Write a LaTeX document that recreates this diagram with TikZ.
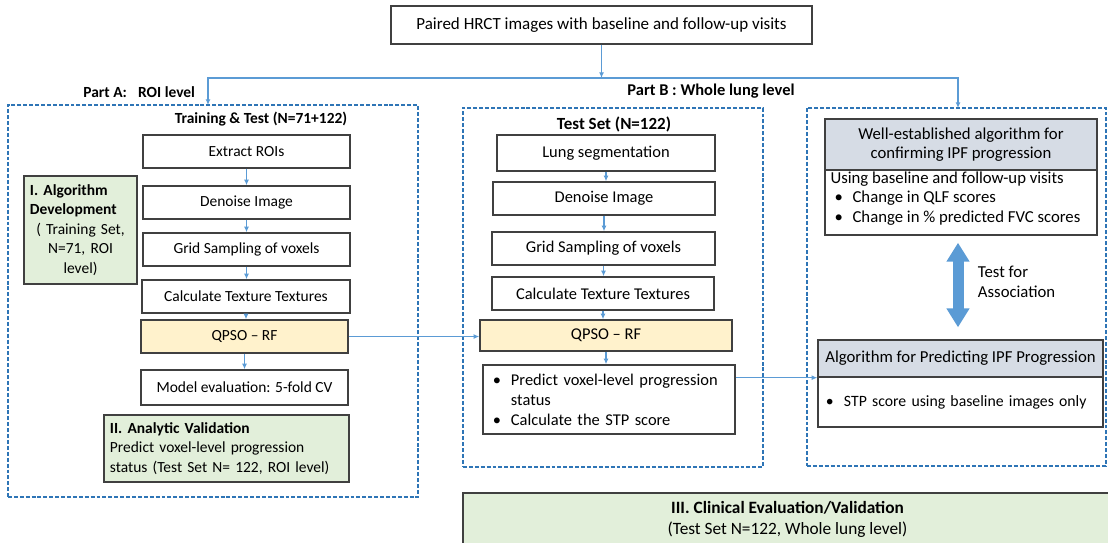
\documentclass[tikz,border=0pt]{standalone}
\usepackage{fontspec}
\setmainfont{Carlito}
\usetikzlibrary{
    positioning,
    arrows.meta,
    calc
}
\definecolor{FrameBlue}{RGB}{46,117,182}
\definecolor{FlowBlue}{RGB}{91,155,213}
\definecolor{BoxGreen}{RGB}{226,239,218}
\definecolor{BoxYellow}{RGB}{255,242,204}
\definecolor{HeadGray}{RGB}{214,220,229}
\definecolor{Edge}{RGB}{64,64,64}

\newcommand{\bitem}{\makebox[0.45cm][l]{\textbullet}}
\newcommand{\bcont}{\hspace*{0.45cm}}
% text sizes of the three parts
\newcommand{\fsA}{\fontsize{11}{13.8}\selectfont}
\newcommand{\fsB}{\fontsize{11.7}{14.2}\selectfont}
\newcommand{\fsC}{\fontsize{11.9}{14}\selectfont}

\begin{document}
\begin{tikzpicture}[
    x=0.025cm, y=-0.025cm,
    font=\fsA,
    stepbox/.style={draw=Edge, line width=1pt, fill=white, inner sep=2pt, minimum height=0.825cm},
    greenbox/.style={draw=Edge, line width=1pt, fill=BoxGreen, inner xsep=0.15cm},
    headbox/.style={draw=Edge, line width=1pt, fill=HeadGray, align=center},
    frame/.style={draw=FrameBlue, line width=1pt, dash pattern=on 2.8pt off 1.4pt},
    heading/.style={font=\fsA\bfseries},
    flow/.style={draw=FlowBlue, line width=0.8pt, -{Latex[length=4pt,width=3.5pt]}},
    assoc/.style={draw=FlowBlue, line width=0.275cm,
        {Triangle[length=0.475cm,width=0.55cm]}-{Triangle[length=0.475cm,width=0.55cm]}},
]
    \clip (0,0) rectangle (1108,542);

    % Input data
    \node[stepbox, font=\fontsize{12.1}{14}\selectfont, minimum width=10.525cm, minimum height=0.95cm] (hrct) at (601.5,25)
        {Paired HRCT images with baseline and follow-up visits};

    % Dashed frames
    \node[frame, minimum width=10.25cm, minimum height=9.8cm] (frameA) at (213,301) {};
    \node[frame, minimum width=7.5cm, minimum height=8.975cm] (frameB) at (613,287.5) {};
    \node[frame, minimum width=7.475cm, minimum height=8.95cm] (frameC) at (956.5,287) {};

    % Headings
    \node[heading, anchor=east] (partA) at (200,92) {Part A:\hspace{0.28cm}ROI level};
    \node[heading, font=\fsB\bfseries] (partB) at (711,91) {Part B : Whole lung level};
    \node[heading] (trainTitle) at (261,119) {Training \& Test (N=71+122)};
    \node[heading, font=\fontsize{12.1}{14}\selectfont\bfseries] (testTitle) at (614,124) {Test Set (N=122)};

    % Part A pipeline
    \node[stepbox, minimum width=5.175cm] (extractA) at (246.5,151.5) {Extract ROIs};
    \node[stepbox, minimum width=5.175cm] (denoiseA) at (246.5,202.5) {Denoise Image};
    \node[stepbox, minimum width=5.175cm] (gridA) at (246.5,249.5) {Grid Sampling of voxels};
    \node[stepbox, minimum width=5.2cm] (textureA) at (246,296.5) {Calculate Texture Textures};
    \node[stepbox, fill=BoxYellow, minimum width=5.175cm] (qpsoA) at (244.5,336.5) {QPSO -- RF};
    \node[stepbox, minimum width=5.175cm, minimum height=0.875cm] (evalA) at (244.5,387.5)
        {Model evaluation: 5-fold CV};

    \node[greenbox, text width=2.525cm, align=center, minimum height=2.7cm] (algDev) at (80.5,230)
        {\textbf{I. Algorithm}\hfill\null\\ \textbf{Development}\hfill\null\\ ( Training Set,\\ N=71, ROI\\ level)};
    \node[greenbox, text width=5.825cm, align=left, minimum height=1.675cm] (analytic) at (226.5,448.5)
        {\textbf{II. Analytic Validation}\\ Predict voxel-level progression\\ status (Test Set N= 122, ROI level)};

    % Part B pipeline
    \begin{scope}[font=\fsB]
    \node[stepbox, minimum width=5.45cm, minimum height=0.9cm] (lungB) at (606,153) {Lung segmentation};
    \node[stepbox, minimum width=5.55cm] (denoiseB) at (604,198.5) {Denoise Image};
    \node[stepbox, minimum width=5.575cm] (gridB) at (603.5,248.5) {Grid Sampling of voxels};
    \node[stepbox, minimum width=5.55cm] (textureB) at (603,293.5) {Calculate Texture Textures};
    \node[stepbox, fill=BoxYellow, minimum width=6.3cm, minimum height=0.775cm] (qpsoB) at (606,335.5) {QPSO -- RF};
    \node[stepbox, minimum width=6.3cm, minimum height=1.725cm, text width=5.8cm, inner xsep=0.25cm, align=left]
        (predictB) at (609,399.5)
        {\bitem Predict voxel-level progression\\ \bcont status\\ \bitem Calculate the STP score};
    \end{scope}

    % Reference algorithm and STP score
    \begin{scope}[font=\fsC]
    \node[headbox, minimum width=6.8cm, minimum height=1.275cm] (wellHead) at (961,144.5)
        {Well-established algorithm for\\ confirming IPF progression};
    \node[stepbox, minimum width=6.8cm, minimum height=1.625cm] (wellBody) at (961,202.5) {};
    \node[anchor=north west, align=left, inner xsep=0.15cm, inner ysep=1.5pt] (wellText) at (wellBody.north west)
        {Using baseline and follow-up visits\\
         \hspace*{0.1cm}\bitem Change in QLF scores\\
         \hspace*{0.1cm}\bitem Change in \% predicted FVC scores};
    \node[headbox, minimum width=7.125cm, minimum height=0.925cm] (algHead) at (960.5,358.5)
        {Algorithm for Predicting IPF Progression};
    \node[stepbox, font=\fontsize{11.2}{14}\selectfont, minimum width=7.125cm, minimum height=1.25cm,
        text width=6.825cm, inner xsep=0.15cm, align=left]
        (algBody) at (960.5,402) {\mbox{\hspace*{0.05cm}\bitem STP score using baseline images only}};

    \draw[assoc] ($(wellBody.south)+(-3,7)$) -- ($(algHead.north)+(-2.5,-12)$);
    \node[anchor=west, align=left] (assocLabel) at (973,282) {Test for\\ Association};
    \end{scope}

    % Clinical evaluation
    \node[greenbox, font=\fontsize{12.3}{14.4}\selectfont, minimum width=16.225cm, minimum height=1.325cm, align=center]
        (clinical) at (787.5,519.5)
        {\textbf{III. Clinical Evaluation/Validation}\\ (Test Set N=122, Whole lung level)};

    % Connectors
    \coordinate (split) at (601,78);
    \coordinate (tapA) at (208,105);
    \coordinate (tapC) at (958,108);
    \draw[flow] (hrct.south) -- (hrct.south |- split);
    \draw[flow] (split) -| (tapA);
    \draw[flow] (split) -| (tapC);

    \foreach \a/\b in {extractA/denoiseA, denoiseA/gridA, gridA/textureA, textureA/qpsoA, qpsoA/evalA,
                       lungB/denoiseB, denoiseB/gridB, gridB/textureB, textureB/qpsoB, qpsoB/predictB}
        \draw[flow] (\a.south) -- (\a.south |- \b.north);

    \draw[flow] (qpsoA.east) -- (qpsoA.east -| qpsoB.west);
    \draw[flow] (predictB.east |- algHead.south) -- (algHead.south west);

\end{tikzpicture}
\end{document}
